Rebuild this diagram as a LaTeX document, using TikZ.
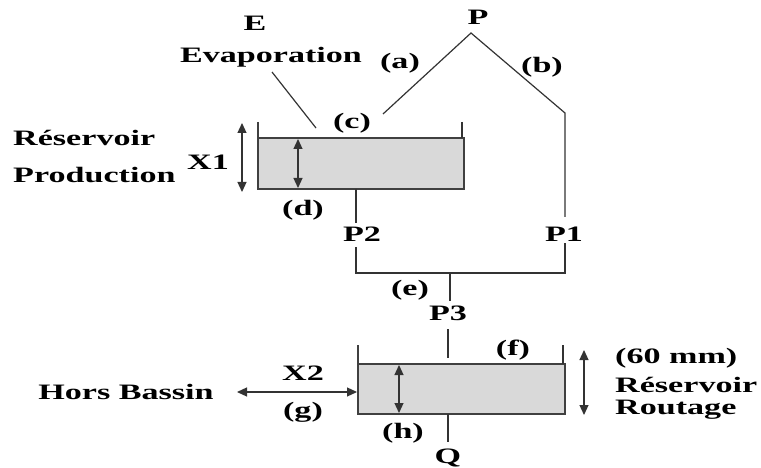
\documentclass[tikz,border=0pt]{standalone}
\usepackage{fontspec}
\setmainfont{Liberation Serif}[FakeStretch=1.55]
\usetikzlibrary{arrows.meta}
\tikzset{
  lbl/.style={font=\fontsize{22}{24}\selectfont\bfseries, inner sep=0pt, text=black},
  ln/.style={line width=1.2pt, draw=black!80},
  tip/.tip={Triangle[length=10pt,width=9pt]},
  dbl/.style={ln, tip-tip},
  tank/.style={draw=black!75, line width=1.4pt, fill=black!15},
}
\begin{document}
\begin{tikzpicture}[x=1pt,y=-1pt]
\useasboundingbox (0,0) rectangle (761,468);
% labels
\node[lbl] (E) at (255,23) {E};
\node[lbl] (evap) at (271,57) {Evaporation};
\node[lbl,anchor=west] (res1) at (13,138) {Réservoir};
\node[lbl,anchor=west] (prod) at (13,175) {Production};
\node[lbl] (X1) at (208,162) {X1};
\node[lbl] (S) at (325,162) {S};
\node[lbl] (c) at (352,123) {(c)};
\node[lbl] (d) at (303,210) {(d)};
\node[lbl] (a) at (400,63) {(a)};
\node[lbl] (b) at (542,67) {(b)};
\node[lbl] (P) at (478,17) {P};
\node[lbl] (P2) at (362,234) {P2};
\node[lbl] (P1) at (564,234) {P1};
\node[lbl] (e) at (410,290) {(e)};
\node[lbl] (P3) at (448,313) {P3};
\node[lbl] (f) at (513,350) {(f)};
\node[lbl] (R) at (435,388) {R};
\node[lbl,anchor=west] (mm) at (615,358) {(60 mm)};
\node[lbl,anchor=west] (res2) at (615,385) {Réservoir};
\node[lbl,anchor=west] (rout) at (615,410) {Routage};
\node[lbl] (h) at (403,433) {(h)};
\node[lbl] (Q) at (448,458) {Q};
\node[lbl] (hors) at (126,392) {Hors Bassin};
\node[lbl] (X2) at (303,373) {X2};
\node[lbl] (g) at (303,412) {(g)};
% coordinates
\coordinate (Sa) at (258,138); \coordinate (Sb) at (464,189);
\coordinate (Ra) at (358,364); \coordinate (Rb) at (565,414);
\coordinate (apex) at (471,33);
\coordinate (aend) at (383,114);
\coordinate (bend) at (565,113);
\coordinate (p1a) at (565,217);
\coordinate (p1b) at (565,243);
\coordinate (p2t) at (356,189);
\coordinate (p2a) at (356,223);
\coordinate (p2b) at (356,247);
\coordinate (jl) at (356,273);
\coordinate (jr) at (565,273);
\coordinate (jm) at (450,273);
\coordinate (jd) at (450,301);
\coordinate (p3a) at (448,329);
\coordinate (p3b) at (448,358);
\coordinate (qa) at (448,414);
\coordinate (qb) at (448,442);
\coordinate (ev1) at (272,72);
\coordinate (ev2) at (316,128);
% tanks
\fill[black!15] (Sa) rectangle (Sb);
\draw[tank,fill=none] (258,122) -- (258,189) -- (464,189) -- (464,138) -- (258,138);
\draw[ln] (462,122) -- (462,138);
\fill[black!15] (Ra) rectangle (Rb);
\draw[tank,fill=none] (358,345) -- (358,414) -- (565,414) -- (565,364) -- (358,364);
\draw[ln] (563,345) -- (563,364);
% connectors
\draw[ln] (ev1) -- (ev2);
\draw[ln] (aend) -- (apex) -- (bend) -- (p1a);
\draw[ln] (p2t) -- (p2a);
\draw[ln] (p2b) -- (jl) -- (jr) -- (p1b);
\draw[ln] (jm) -- (jd);
\draw[ln] (p3a) -- (p3b);
\draw[ln] (qa) -- (qb);
% arrows
\draw[dbl] (242,123) -- (242,192);
\draw[dbl] (298,139) -- (298,188);
\draw[dbl] (399,365) -- (399,413);
\draw[dbl] (584,350) -- (584,415);
\draw[dbl] (237,392) -- (357,392);
\end{tikzpicture}
\end{document}
